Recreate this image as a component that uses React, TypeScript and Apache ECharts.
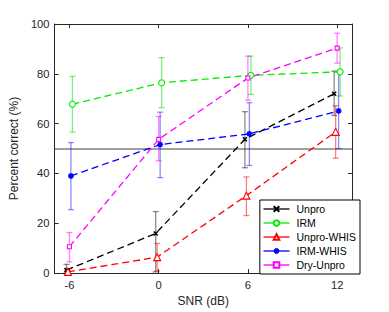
import React, { useEffect, useRef } from "react";
import * as echarts from "echarts";

const snr = [-6, 0, 6, 12];
const xTicks = [-6, 0, 6, 12];

const names = ["Unpro", "IRM", "Unpro-WHIS", "IRM-WHIS", "Dry-Unpro"];
const colors = ["#000000", "#00ee00", "#ff0000", "#0000ff", "#ff00ff"];
const errColors = ["rgba(0,0,0,0.45)", "rgba(0,220,0,0.5)", "rgba(255,0,0,0.5)", "rgba(0,0,255,0.45)", "rgba(255,0,255,0.5)"];
const offsets = [-0.2, 0.2, -0.1, 0.1, 0];

const unpro = [1.2, 15.9, 53.7, 72.0];
const unproLo = [0, 0.5, 42.3, 63.3];
const unproHi = [3.5, 24.7, 64.8, 81.1];

const irm = [67.8, 76.4, 79.4, 80.8];
const irmLo = [56.6, 66.4, 71.7, 71.1];
const irmHi = [79.0, 86.5, 87.1, 90.4];

const unproWhis = [0.5, 6.4, 31.1, 56.7];
const unproWhisLo = [0, 0.8, 23.1, 46.1];
const unproWhisHi = [1.0, 11.9, 38.6, 67.2];

const irmWhis = [39.0, 51.6, 55.9, 65.1];
const irmWhisLo = [25.5, 38.3, 43.2, 50.0];
const irmWhisHi = [52.4, 64.6, 68.4, 80.8];

const dry = [10.6, 53.7, 78.3, 90.3];
const dryLo = [4.5, 45.1, 69.4, 84.3];
const dryHi = [16.3, 62.9, 87.1, 96.3];

const means = [unpro, irm, unproWhis, irmWhis, dry];
const los = [unproLo, irmLo, unproWhisLo, irmWhisLo, dryLo];
const his = [unproHi, irmHi, unproWhisHi, irmWhisHi, dryHi];

const symbols = [
  "path://M-1,-1L1,1M-1,1L1,-1",
  "circle",
  "triangle",
  "path://M0,-1L0,1M-1,0L1,0M-0.7,-0.7L0.7,0.7M-0.7,0.7L0.7,-0.7",
  "rect",
];
const symbolSizes = [4, 6, 7, 6, 4];

const FONT = "Liberation Sans, Arial, sans-serif";

export default function App() {
  const ref = useRef<HTMLDivElement>(null);
  useEffect(() => {
    if (!ref.current) return;
    const chart = echarts.init(ref.current, null, { renderer: "svg" });

    const series: any[] = [];
    names.forEach((name, i) => {
      const errData = snr.map((x, j) => [x + offsets[i], los[i][j], his[i][j]]);
      series.push({
        type: "custom",
        name: name + "-err",
        data: errData,
        z: 1,
        renderItem: (params: any, api: any) => {
          const x = api.value(0);
          const lo = api.coord([x, api.value(1)]);
          const hi = api.coord([x, api.value(2)]);
          const w = 3;
          const style = { stroke: errColors[i], lineWidth: 1.3 };
          return {
            type: "group",
            children: [
              { type: "line", shape: { x1: lo[0], y1: lo[1], x2: hi[0], y2: hi[1] }, style },
              { type: "line", shape: { x1: lo[0] - w, y1: lo[1], x2: lo[0] + w, y2: lo[1] }, style },
              { type: "line", shape: { x1: hi[0] - w, y1: hi[1], x2: hi[0] + w, y2: hi[1] }, style },
            ],
          };
        },
      });
    });

    names.forEach((name, i) => {
      const isPath = symbols[i].startsWith("path://");
      series.push({
        type: "line",
        name,
        data: snr.map((x, j) => [x + offsets[i], means[i][j]]),
        color: colors[i],
        symbol: symbols[i],
        symbolSize: symbolSizes[i],
        showAllSymbol: true,
        z: 3,
        lineStyle: { color: colors[i], width: 1.3, type: [7, 4] },
        itemStyle: {
          color: isPath ? colors[i] : "#ffffff",
          borderColor: colors[i],
          borderWidth: isPath ? 1.5 : 1.1,
        },
        markLine:
          i === 0
            ? {
                silent: true,
                symbol: "none",
                label: { show: false },
                lineStyle: { color: "#a0a0a0", width: 2, type: "solid" },
                data: [{ yAxis: 50 }],
                z: 0,
              }
            : undefined,
      });
    });

    const axisLine = { show: true, onZero: false, lineStyle: { color: "#262626", width: 1 } };

    chart.setOption({
      animation: false,
      backgroundColor: "#ffffff",
      textStyle: { fontFamily: FONT },
      grid: { left: 50, right: 37, top: 24, bottom: 34 },
      legend: {
        data: names,
        orient: "vertical",
        right: 29,
        bottom: 38,
        backgroundColor: "#ffffff",
        borderColor: "#000000",
        borderWidth: 1,
        borderRadius: 0,
        padding: [3, 4, 3, 3],
        itemWidth: 26,
        itemHeight: 7,
        itemGap: 2,
        lineStyle: { type: "solid", width: 1.3 },
        textStyle: { fontFamily: FONT, fontSize: 10.5, lineHeight: 12, color: "#000", padding: [0, 0, 0, 2] },
      },
      xAxis: [
        {
          type: "value",
          min: -7,
          max: 13,
          name: "SNR (dB)",
          nameLocation: "middle",
          nameGap: 21,
          nameTextStyle: { fontFamily: FONT, fontSize: 12, color: "#262626" },
          axisLine,
          splitLine: { show: false },
          axisTick: { show: true, inside: true, length: 4, customValues: xTicks, lineStyle: { color: "#262626" } },
          axisLabel: { customValues: xTicks, fontFamily: FONT, fontSize: 11.2, color: "#262626", margin: 6 },
        },
        {
          type: "value",
          position: "top",
          min: -7,
          max: 13,
          axisLine,
          splitLine: { show: false },
          axisTick: { show: true, inside: true, length: 4, customValues: xTicks, lineStyle: { color: "#262626" } },
          axisLabel: { show: false },
        },
      ],
      yAxis: [
        {
          type: "value",
          min: 0,
          max: 100,
          interval: 20,
          name: "Percent correct (%)",
          nameLocation: "middle",
          nameGap: 27,
          nameTextStyle: { fontFamily: FONT, fontSize: 12, color: "#262626" },
          axisLine,
          splitLine: { show: false },
          axisTick: { show: true, inside: true, length: 4, lineStyle: { color: "#262626" } },
          axisLabel: { fontFamily: FONT, fontSize: 11.2, color: "#262626", margin: 5 },
        },
        {
          type: "value",
          position: "right",
          min: 0,
          max: 100,
          interval: 20,
          axisLine,
          splitLine: { show: false },
          axisTick: { show: true, inside: true, length: 4, lineStyle: { color: "#262626" } },
          axisLabel: { show: false },
        },
      ],
      series,
    });
    return () => chart.dispose();
  }, []);
  return <div ref={ref} style={{ position: "fixed", left: 0, top: 0, width: 389, height: 312 }} />;
}
